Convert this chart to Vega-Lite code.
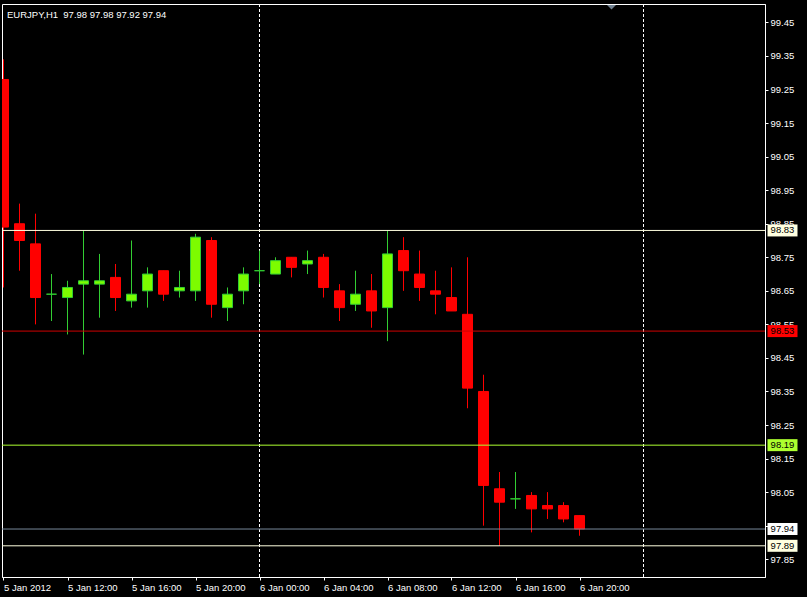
{
  "$schema": "https://vega.github.io/schema/vega-lite/v6.json",
  "width": 763,
  "height": 573,
  "autosize": {"type": "none"},
  "padding": {"left": 2, "top": 4, "right": 42, "bottom": 20},
  "background": "#000000",
  "config": {
    "view": {"stroke": "#FFFFFF", "strokeWidth": 1},
    "font": "Liberation Sans",
    "scale": {"continuousPadding": 0},
    "axis": {
      "domainColor": "#FFFFFF",
      "tickColor": "#FFFFFF",
      "labelColor": "#FFFFFF",
      "labelFont": "Liberation Sans",
      "labelFontSize": 9.5,
      "grid": false,
      "tickSize": 3,
      "domainWidth": 1,
      "tickWidth": 1,
      "labelOverlap": false,
      "labelFlush": false,
      "labelPadding": 2
    }
  },
  "title": {
    "text": "EURJPY,H1\u00a0 97.98 97.98 97.92 97.94",
    "anchor": "start",
    "frame": "group",
    "orient": "top",
    "offset": -24,
    "dx": 5,
    "baseline": "alphabetic",
    "color": "#FFFFFF",
    "font": "Liberation Sans",
    "fontSize": 9.5,
    "fontWeight": "normal"
  },
  "datasets": {
    "bars": [
      {"t": "2012-01-05T08:00:00Z", "o": 99.28, "h": 99.34, "l": 98.66, "c": 98.84},
      {"t": "2012-01-05T09:00:00Z", "o": 98.85, "h": 98.91, "l": 98.71, "c": 98.80},
      {"t": "2012-01-05T10:00:00Z", "o": 98.79, "h": 98.88, "l": 98.55, "c": 98.63},
      {"t": "2012-01-05T11:00:00Z", "o": 98.64, "h": 98.70, "l": 98.56, "c": 98.64},
      {"t": "2012-01-05T12:00:00Z", "o": 98.63, "h": 98.68, "l": 98.52, "c": 98.66},
      {"t": "2012-01-05T13:00:00Z", "o": 98.67, "h": 98.83, "l": 98.46, "c": 98.68},
      {"t": "2012-01-05T14:00:00Z", "o": 98.67, "h": 98.76, "l": 98.57, "c": 98.68},
      {"t": "2012-01-05T15:00:00Z", "o": 98.69, "h": 98.73, "l": 98.59, "c": 98.63},
      {"t": "2012-01-05T16:00:00Z", "o": 98.62, "h": 98.80, "l": 98.60, "c": 98.64},
      {"t": "2012-01-05T17:00:00Z", "o": 98.65, "h": 98.72, "l": 98.60, "c": 98.70},
      {"t": "2012-01-05T18:00:00Z", "o": 98.71, "h": 98.71, "l": 98.62, "c": 98.64},
      {"t": "2012-01-05T19:00:00Z", "o": 98.65, "h": 98.71, "l": 98.63, "c": 98.66},
      {"t": "2012-01-05T20:00:00Z", "o": 98.65, "h": 98.82, "l": 98.62, "c": 98.81},
      {"t": "2012-01-05T21:00:00Z", "o": 98.80, "h": 98.81, "l": 98.57, "c": 98.61},
      {"t": "2012-01-05T22:00:00Z", "o": 98.60, "h": 98.66, "l": 98.56, "c": 98.64},
      {"t": "2012-01-05T23:00:00Z", "o": 98.65, "h": 98.72, "l": 98.61, "c": 98.70},
      {"t": "2012-01-06T00:00:00Z", "o": 98.71, "h": 98.77, "l": 98.67, "c": 98.71},
      {"t": "2012-01-06T01:00:00Z", "o": 98.70, "h": 98.75, "l": 98.70, "c": 98.74},
      {"t": "2012-01-06T02:00:00Z", "o": 98.75, "h": 98.75, "l": 98.69, "c": 98.72},
      {"t": "2012-01-06T03:00:00Z", "o": 98.73, "h": 98.77, "l": 98.70, "c": 98.74},
      {"t": "2012-01-06T04:00:00Z", "o": 98.75, "h": 98.76, "l": 98.63, "c": 98.66},
      {"t": "2012-01-06T05:00:00Z", "o": 98.65, "h": 98.67, "l": 98.56, "c": 98.60},
      {"t": "2012-01-06T06:00:00Z", "o": 98.61, "h": 98.71, "l": 98.59, "c": 98.64},
      {"t": "2012-01-06T07:00:00Z", "o": 98.65, "h": 98.70, "l": 98.54, "c": 98.59},
      {"t": "2012-01-06T08:00:00Z", "o": 98.60, "h": 98.83, "l": 98.50, "c": 98.76},
      {"t": "2012-01-06T09:00:00Z", "o": 98.77, "h": 98.81, "l": 98.65, "c": 98.71},
      {"t": "2012-01-06T10:00:00Z", "o": 98.70, "h": 98.77, "l": 98.62, "c": 98.66},
      {"t": "2012-01-06T11:00:00Z", "o": 98.65, "h": 98.71, "l": 98.58, "c": 98.64},
      {"t": "2012-01-06T12:00:00Z", "o": 98.63, "h": 98.72, "l": 98.59, "c": 98.59},
      {"t": "2012-01-06T13:00:00Z", "o": 98.58, "h": 98.75, "l": 98.30, "c": 98.36},
      {"t": "2012-01-06T14:00:00Z", "o": 98.35, "h": 98.40, "l": 97.95, "c": 98.07},
      {"t": "2012-01-06T15:00:00Z", "o": 98.06, "h": 98.11, "l": 97.89, "c": 98.02},
      {"t": "2012-01-06T16:00:00Z", "o": 98.03, "h": 98.11, "l": 98.00, "c": 98.03},
      {"t": "2012-01-06T17:00:00Z", "o": 98.04, "h": 98.05, "l": 97.93, "c": 98.00},
      {"t": "2012-01-06T18:00:00Z", "o": 98.01, "h": 98.05, "l": 97.97, "c": 98.00},
      {"t": "2012-01-06T19:00:00Z", "o": 98.01, "h": 98.02, "l": 97.96, "c": 97.97},
      {"t": "2012-01-06T20:00:00Z", "o": 97.98, "h": 97.98, "l": 97.92, "c": 97.94}
    ],
    "seps": [
      {"t": "2012-01-06T00:00:00Z"},
      {"t": "2012-01-07T00:00:00Z"}
    ],
    "levels": [
      {"kind": "upper", "price": 98.83},
      {"kind": "red", "price": 98.53},
      {"kind": "green", "price": 98.19},
      {"kind": "bid", "price": 97.94},
      {"kind": "lower", "price": 97.89}
    ],
    "marker": [
      {"t": "2012-01-06T22:00:00Z", "price": 99.495}
    ]
  },
  "layer": [
    {
      "data": {"name": "seps"},
      "mark": {"type": "rule", "color": "#FFFFFF", "strokeWidth": 1, "strokeDash": [3, 2]},
      "encoding": {
        "x": {
          "field": "t", "type": "temporal", "title": null,
          "scale": {"type": "utc", "domain": [1325750062500, 1325921737500], "padding": 0},
          "axis": {
            "orient": "bottom",
            "values": [1325750400000, 1325764800000, 1325779200000, 1325793600000, 1325808000000, 1325822400000, 1325836800000, 1325851200000, 1325865600000, 1325880000000],
            "tickCount": 30,
            "labelExpr": "datum.index == 0 ? '5 Jan 2012' : utcFormat(datum.value, '%-d %b %H:%M')",
            "labelAlign": "left",
            "labelBaseline": "top",
            "labelPadding": 2,
            "labelFlush": false,
            "labelOverlap": false,
            "labelDx": -1
          }
        }
      }
    },
    {
      "data": {"name": "bars"},
      "mark": {"type": "rule", "strokeWidth": 1, "clip": true},
      "encoding": {
        "x": {"field": "t", "type": "temporal", "title": null, "scale": {"type": "utc", "domain": [1325750062500, 1325921737500], "padding": 0}},
        "y": {
          "field": "l", "type": "quantitative", "title": null,
          "scale": {"domain": [97.797, 99.505], "nice": false, "zero": false, "padding": 0},
          "axis": {
            "orient": "right",
            "values": [97.85, 97.95, 98.05, 98.15, 98.25, 98.35, 98.45, 98.55, 98.65, 98.75, 98.85, 98.95, 99.05, 99.15, 99.25, 99.35, 99.45],
            "tickCount": 40,
            "format": ".2f",
            "labelAlign": "left",
            "labelBaseline": "middle",
            "labelPadding": 2,
            "labelFlush": false,
            "labelOverlap": false
          }
        },
        "y2": {"field": "h"},
        "color": {"condition": {"test": "datum.c >= datum.o", "value": "#32CD32"}, "value": "#FF0000"}
      }
    },
    {
      "data": {"name": "bars"},
      "mark": {"type": "bar", "width": 10, "strokeWidth": 1, "clip": true},
      "encoding": {
        "x": {"field": "t", "type": "temporal", "title": null, "scale": {"type": "utc", "domain": [1325750062500, 1325921737500], "padding": 0}},
        "y": {"field": "o", "type": "quantitative", "title": null, "scale": {"domain": [97.797, 99.505], "nice": false, "zero": false, "padding": 0}},
        "y2": {"field": "c"},
        "fill": {"condition": {"test": "datum.c >= datum.o", "value": "#7CFC00"}, "value": "#FF0000"},
        "stroke": {"condition": {"test": "datum.c >= datum.o", "value": "#32CD32"}, "value": "#FF0000"}
      }
    },
    {
      "data": {"name": "levels"},
      "mark": {"type": "rule", "strokeWidth": 1},
      "encoding": {
        "y": {"field": "price", "type": "quantitative", "title": null, "scale": {"domain": [97.797, 99.505], "nice": false, "zero": false, "padding": 0}},
        "stroke": {
          "field": "kind", "type": "nominal", "legend": null,
          "scale": {"domain": ["upper", "red", "green", "bid", "lower"], "range": ["#FFFFE0", "#D00000", "#ADFF2F", "#778899", "#FFFFE0"]}
        }
      }
    },
    {
      "data": {"name": "levels"},
      "mark": {"type": "bar", "orient": "horizontal", "height": 12, "clip": false},
      "encoding": {
        "x": {"datum": 1325922300000, "type": "temporal", "title": null, "scale": {"type": "utc", "domain": [1325750062500, 1325921737500], "padding": 0}},
        "x2": {"datum": 1325929050000},
        "y": {"field": "price", "type": "quantitative", "title": null, "scale": {"domain": [97.797, 99.505], "nice": false, "zero": false, "padding": 0}},
        "fill": {
          "field": "kind", "type": "nominal", "legend": null,
          "scale": {"domain": ["upper", "red", "green", "bid", "lower"], "range": ["#FFFFE0", "#FF0000", "#ADFF2F", "#FFFFFF", "#FFFFE0"]}
        }
      }
    },
    {
      "data": {"name": "levels"},
      "mark": {"type": "text", "align": "center", "baseline": "middle", "color": "#000000", "font": "Liberation Sans", "fontSize": 9.5, "clip": false},
      "encoding": {
        "x": {"datum": 1325925675000, "type": "temporal", "title": null, "scale": {"type": "utc", "domain": [1325750062500, 1325921737500], "padding": 0}},
        "y": {"field": "price", "type": "quantitative", "title": null, "scale": {"domain": [97.797, 99.505], "nice": false, "zero": false, "padding": 0}},
        "text": {"field": "price", "type": "quantitative", "format": ".2f"}
      }
    },
    {
      "data": {"name": "marker"},
      "mark": {"type": "point", "shape": "M-1,-0.5L1,-0.5L0,0.5Z", "size": 81, "filled": true, "color": "#708090", "opacity": 1},
      "encoding": {
        "x": {"field": "t", "type": "temporal", "title": null, "scale": {"type": "utc", "domain": [1325750062500, 1325921737500], "padding": 0}},
        "y": {"field": "price", "type": "quantitative", "title": null, "scale": {"domain": [97.797, 99.505], "nice": false, "zero": false, "padding": 0}}
      }
    }
  ]
}
